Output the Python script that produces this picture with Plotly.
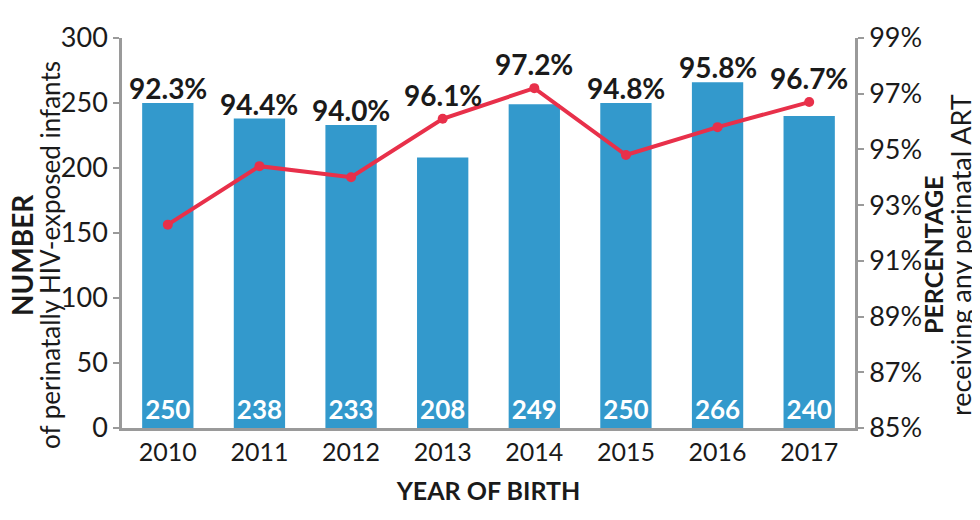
import plotly.graph_objects as go

years = [2010, 2011, 2012, 2013, 2014, 2015, 2016, 2017]
infants = [250, 238, 233, 208, 249, 250, 266, 240]
pct_art = [92.3, 94.4, 94.0, 96.1, 97.2, 94.8, 95.8, 96.7]
left_ticks = [0, 50, 100, 150, 200, 250, 300]
right_ticks = [85, 87, 89, 91, 93, 95, 97, 99]

FONT = "Lato, 'Open Sans', sans-serif"
BLUE = "#3399cc"
RED = "#e8304a"
AX = "#9a9a9a"
TXT = "#1a1a1a"

L_MIN, L_MAX = 0, 300
R_MIN, R_MAX = 85, 99

fig = go.Figure()
fig.add_trace(go.Bar(
    x=years, y=infants, width=0.56, marker_color=BLUE, marker_line_width=0,
    text=[f"<b>{v}</b>" for v in infants], textposition="inside",
    insidetextanchor="start", textangle=0,
    textfont=dict(color="white", size=26, family=FONT),
    yaxis="y", showlegend=False, hoverinfo="skip",
))
fig.add_trace(go.Scatter(
    x=years, y=pct_art, mode="lines+markers", yaxis="y2",
    line=dict(color=RED, width=4), marker=dict(color=RED, size=10),
    showlegend=False, hoverinfo="skip",
))

for yr, n, p in zip(years, infants, pct_art):
    p_left = (p - R_MIN) / (R_MAX - R_MIN) * (L_MAX - L_MIN)
    if p_left > n:
        y, shift = p_left, 5
    else:
        y, shift = n, -4
    fig.add_annotation(x=yr, y=y, yref="y", xref="x", text=f"<b>{p:.1f}%</b>",
                       showarrow=False, yanchor="bottom", yshift=shift,
                       font=dict(size=28, color=TXT, family=FONT))

# axis titles as separate lines (pixel offsets from the plot edges)
title_lines = [
    (0, -100, "<b>NUMBER</b>", 28),
    (0, -72, "of perinatally HIV-exposed infants", 26),
    (1, 78, "<b>PERCENTAGE</b>", 25),
    (1, 105, "receiving any perinatal ART", 27),
]
for px, dx, txt, fs in title_lines:
    fig.add_annotation(xref="paper", yref="paper", x=px, y=0.5, xshift=dx, yshift=-22,
                       xanchor="center", yanchor="middle", textangle=-90,
                       showarrow=False, text=txt,
                       font=dict(size=fs, color=TXT, family=FONT))

fig.update_layout(
    width=980, height=520,
    margin=dict(l=114, r=133, t=26, b=100),
    plot_bgcolor="white", paper_bgcolor="white",
    font=dict(family=FONT, color=TXT, size=26),
    xaxis=dict(
        range=[years[0] - 0.5, years[-1] + 0.5], tickvals=years,
        showline=True, linecolor=AX, linewidth=2.5, ticks="", showgrid=False,
        zeroline=False, tickfont=dict(size=25),
        title=dict(text="<b>YEAR OF BIRTH</b>", font=dict(size=25), standoff=18),
    ),
    yaxis=dict(
        range=[L_MIN, L_MAX], tickvals=left_ticks, showline=True, linecolor=AX,
        linewidth=2.5, ticks="outside", ticklen=6, tickcolor=AX, tickwidth=2,
        showgrid=False, zeroline=False, tickfont=dict(size=27),
    ),
    yaxis2=dict(
        range=[R_MIN, R_MAX], tickvals=right_ticks,
        ticktext=[f"{t}%" for t in right_ticks],
        overlaying="y", side="right", showline=True, linecolor=AX,
        linewidth=2.5, ticks="outside", ticklen=6, tickcolor=AX, tickwidth=2,
        showgrid=False, zeroline=False, tickfont=dict(size=27),
    ),
)

fig.write_html("out.html")
